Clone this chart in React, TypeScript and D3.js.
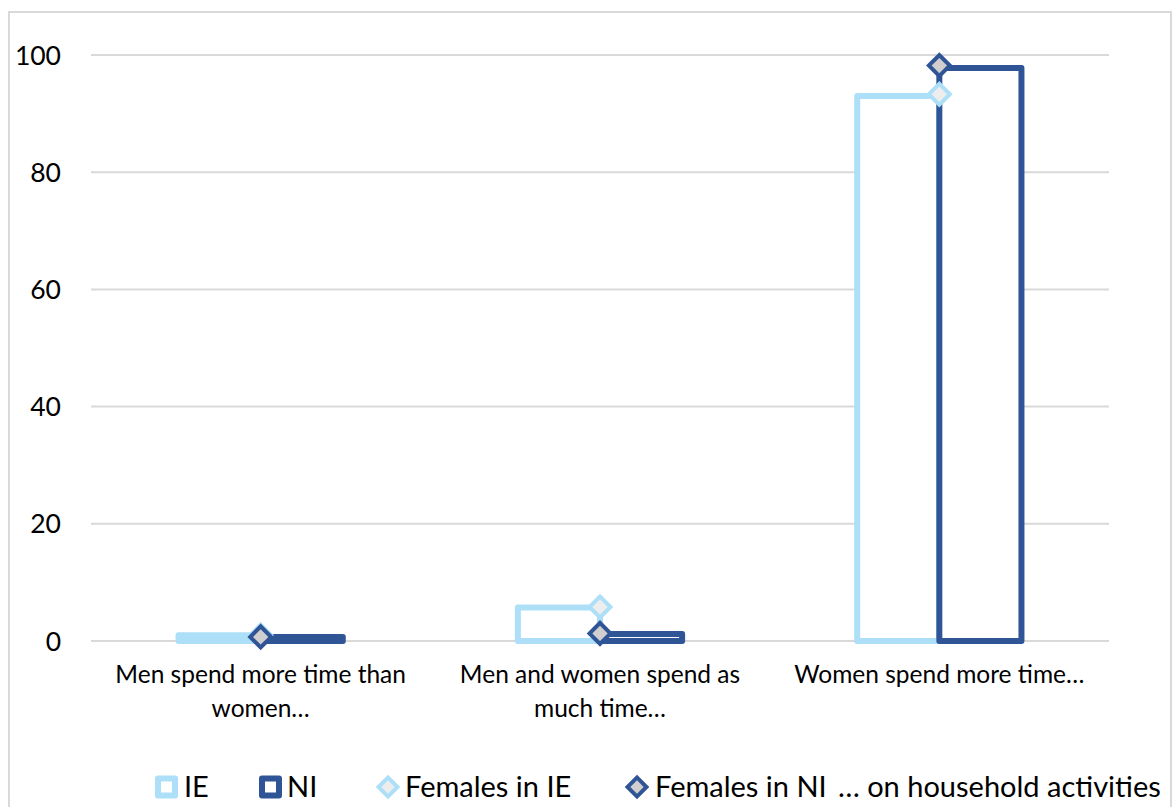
import React, { useRef, useEffect } from 'react';
import * as d3 from 'd3';

const categories = [
  ['Men spend more time than', 'women…'],
  ['Men and women spend as', 'much time…'],
  ['Women spend more time…'],
];
const ieValues = [1.0, 5.7, 93.0];
const niValues = [0.7, 1.2, 97.8];
const femalesIE = [1.0, 5.8, 93.3];
const femalesNI = [0.7, 1.3, 98.2];
const yTicks = [0, 20, 40, 60, 80, 100];

const LIGHT = '#AEDFF8';
const DARK = '#2F5597';
const FONT = 'Lato, "Open Sans", sans-serif';

const App = () => {
  const ref = useRef<SVGSVGElement>(null);

  useEffect(() => {
    const svg = d3.select(ref.current);
    svg.selectAll('*').remove();

    // chart frame
    svg.append('rect')
      .attr('x', 9).attr('y', 12)
      .attr('width', 1162).attr('height', 820)
      .attr('fill', '#fff').attr('stroke', '#d9d9d9').attr('stroke-width', 2);

    const x = d3.scaleBand<number>()
      .domain(categories.map((_, i) => i))
      .range([91, 1109]);
    const y = d3.scaleLinear().domain([0, 100]).range([641, 55]);
    const barW = x.bandwidth() * 0.242;
    const cx = (i: number) => (x(i) as number) + x.bandwidth() / 2;

    // gridlines
    svg.append('g').selectAll('line')
      .data(yTicks)
      .enter().append('line')
      .attr('x1', 91).attr('x2', 1109)
      .attr('y1', d => y(d)).attr('y2', d => y(d))
      .attr('stroke', '#d9d9d9').attr('stroke-width', 2);

    // y tick labels
    svg.append('g').selectAll('text')
      .data(yTicks)
      .enter().append('text')
      .attr('x', 61).attr('y', d => y(d))
      .attr('dy', '0.36em')
      .attr('text-anchor', 'end')
      .attr('font-family', FONT).attr('font-size', 26.5).attr('fill', '#000')
      .text(d => d);

    // bars
    const bars = (vals: number[], color: string, offset: number) => {
      svg.append('g').selectAll('rect')
        .data(vals)
        .enter().append('rect')
        .attr('x', (_, i) => cx(i) + offset)
        .attr('y', d => y(d))
        .attr('width', barW)
        .attr('height', d => y(0) - y(d))
        .attr('fill', '#fff')
        .attr('stroke', color).attr('stroke-width', 6)
        .attr('stroke-linejoin', 'round');
    };
    bars(ieValues, LIGHT, -barW);
    bars(niValues, DARK, 0);

    // markers
    const diamond = d3.symbol().type(d3.symbolSquare).size(220)();
    const markers = (vals: number[], stroke: string, fill: string) => {
      svg.append('g').selectAll('path')
        .data(vals)
        .enter().append('path')
        .attr('d', diamond)
        .attr('transform', (d, i) => `translate(${cx(i)},${y(d)}) rotate(45)`)
        .attr('fill', fill)
        .attr('stroke', stroke).attr('stroke-width', 4);
    };
    markers(femalesIE, LIGHT, '#EDEDED');
    markers(femalesNI, DARK, '#D0CECE');

    // category labels
    const cat = svg.append('g').selectAll('text')
      .data(categories)
      .enter().append('text')
      .attr('x', (_, i) => cx(i))
      .attr('y', 683)
      .attr('text-anchor', 'middle')
      .attr('font-family', FONT).attr('font-size', 24.5).attr('fill', '#000');
    cat.selectAll('tspan')
      .data((d, i) => d.map(t => ({ t, i })))
      .enter().append('tspan')
      .attr('x', d => cx(d.i))
      .attr('dy', (_, j) => (j === 0 ? 0 : 34))
      .text(d => d.t);

    // legend
    const lg = svg.append('g').attr('font-family', FONT).attr('font-size', 29).attr('fill', '#000');
    const ly = 787;
    const square = (c: number, color: string) => {
      lg.append('rect')
        .attr('x', c - 8.5).attr('y', ly - 8.5)
        .attr('width', 17).attr('height', 17)
        .attr('fill', '#fff').attr('stroke', color).attr('stroke-width', 6)
        .attr('stroke-linejoin', 'round');
    };
    const diam = (c: number, stroke: string, fill: string) => {
      lg.append('path')
        .attr('d', d3.symbol().type(d3.symbolSquare).size(180)())
        .attr('transform', `translate(${c},${ly}) rotate(45)`)
        .attr('fill', fill).attr('stroke', stroke).attr('stroke-width', 4);
    };
    const label = (x0: number, t: string) => {
      lg.append('text').attr('x', x0).attr('y', ly).attr('dy', '0.36em').text(t);
    };
    square(166.5, LIGHT); label(184, 'IE');
    square(270.5, DARK); label(287, 'NI');
    diam(388, LIGHT, '#EDEDED'); label(405, 'Females in IE');
    diam(637, DARK, '#D0CECE'); label(655, 'Females in NI');
    label(838, '… on household activities');
  }, []);

  return (
    <svg ref={ref} width={1174} height={807}
      style={{ position: 'absolute', left: 0, top: 0, background: '#fff' }} />
  );
};

export default App;
